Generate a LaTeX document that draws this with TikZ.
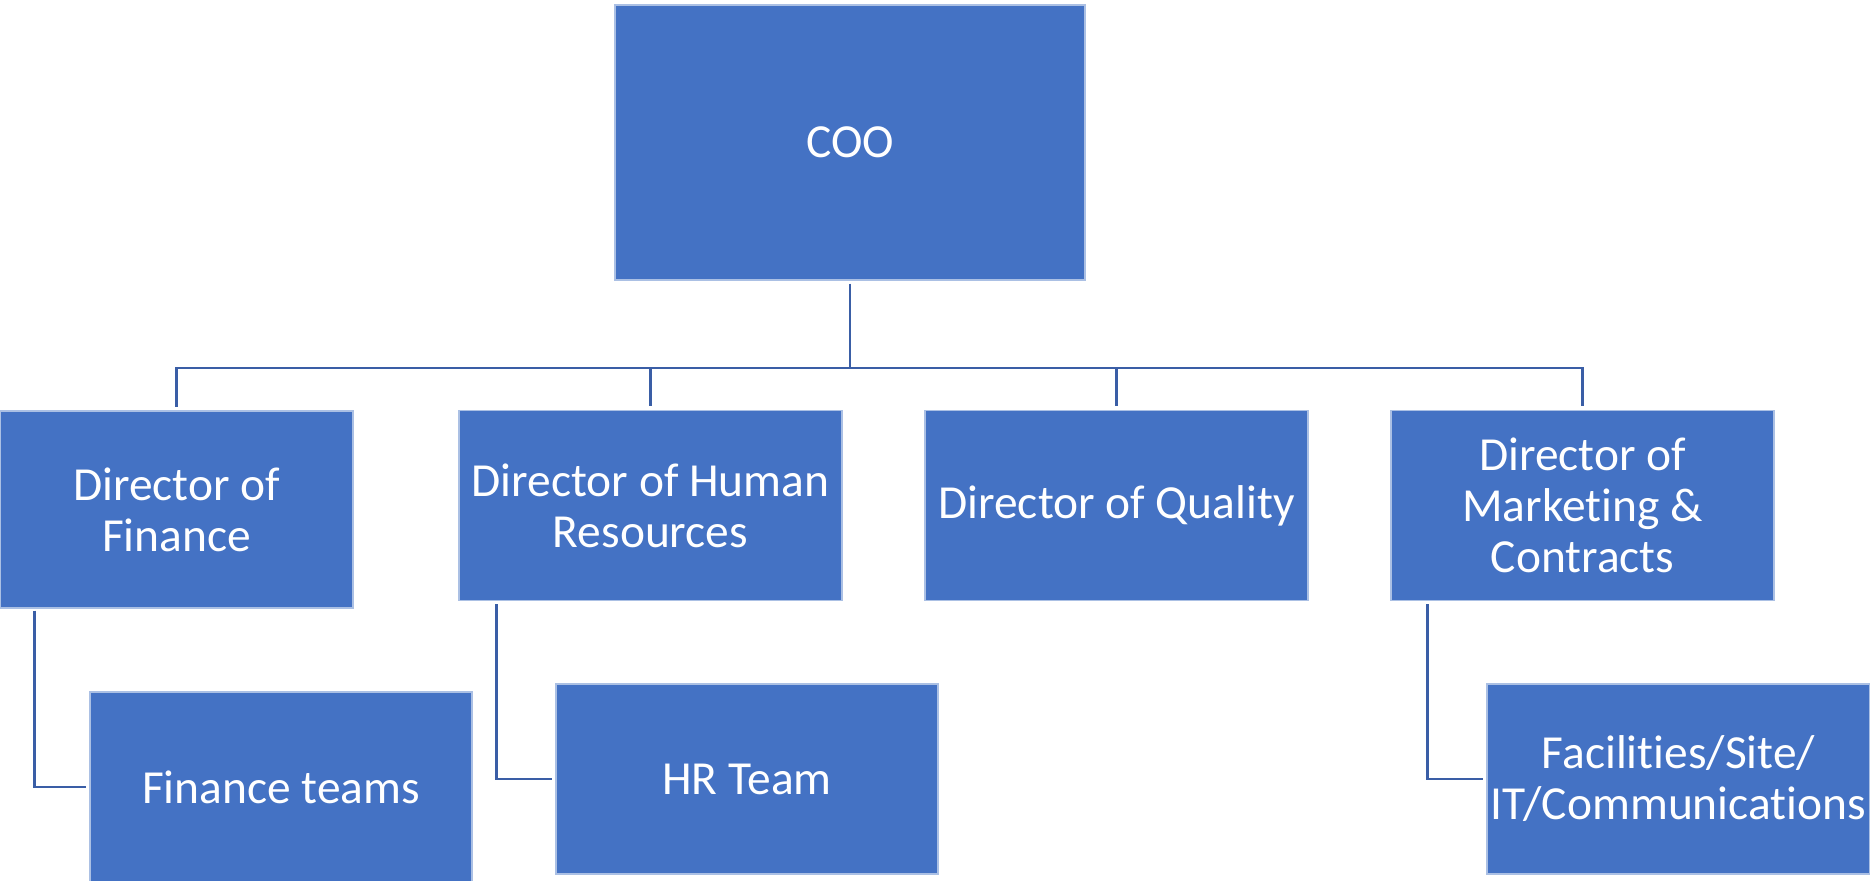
\documentclass[tikz,border=0pt]{standalone}
\usepackage{fontspec}
\setmainfont[RawFeature={-liga;-clig;-calt;-dlig}]{Carlito}
\usepackage{tikz}
\usetikzlibrary{positioning}
\definecolor{boxblue}{HTML}{4472C4}
\definecolor{linkblue}{RGB}{58,94,166}
\tikzset{
	box/.style={draw=white!55!boxblue,line width=0.3pt,fill=boxblue,rectangle,align=center,text=white,
		inner sep=0pt,minimum width=3.83cm,minimum height=1.9cm,font=\fontsize{13.5}{14.5}\selectfont},
	link/.style={draw=linkblue,line width=0.7pt},
	every new ->/.style={shorten >=1pt}
}
\begin{document}
\begin{tikzpicture}
			\useasboundingbox (0,0) rectangle (18.7,-8.8);
			\node[box,minimum width=4.7cm,minimum height=2.75cm] (coo) at (8.5,-1.425) {COO};
			\node[box,minimum width=3.53cm,minimum height=1.97cm] (fin) at (1.765,-5.095) {Director of\\Finance};
			\node[box] (hr) at (6.505,-5.055) {Director of Human\\Resources};
			\node[box] (qual) at (11.165,-5.055) {Director of Quality};
			\node[box] (mkt) at (15.825,-5.055) {Director of\\Marketing \&\\Contracts};
			\node[box,minimum width=3.82cm] (finteam) at (2.81,-7.87) {Finance teams};
			\node[box,minimum width=3.82cm] (hrteam) at (7.47,-7.79) {HR Team};
			\node[box] (site) at (16.785,-7.79) {Facilities/Site/\\IT/Communications};
			\node[coordinate] (bus) at (8.5,-3.68) {};
			
			\draw[link,shorten <=0.9pt] (coo) -- (bus);
			\foreach \d in {fin,hr,qual,mkt}
				\draw[link,shorten >=1.1pt] (bus) -| (\d);
			\draw[link,shorten <=0.6pt,shorten >=0.9pt] ([xshift=.35cm]fin.south west) |- (finteam);
			\draw[link,shorten <=0.9pt,shorten >=0.9pt] ([xshift=.38cm]hr.south west) |- (hrteam);
			\draw[link,shorten <=0.9pt,shorten >=0.9pt] ([xshift=.37cm]mkt.south west) |- (site);
		\end{tikzpicture}
\end{document}
